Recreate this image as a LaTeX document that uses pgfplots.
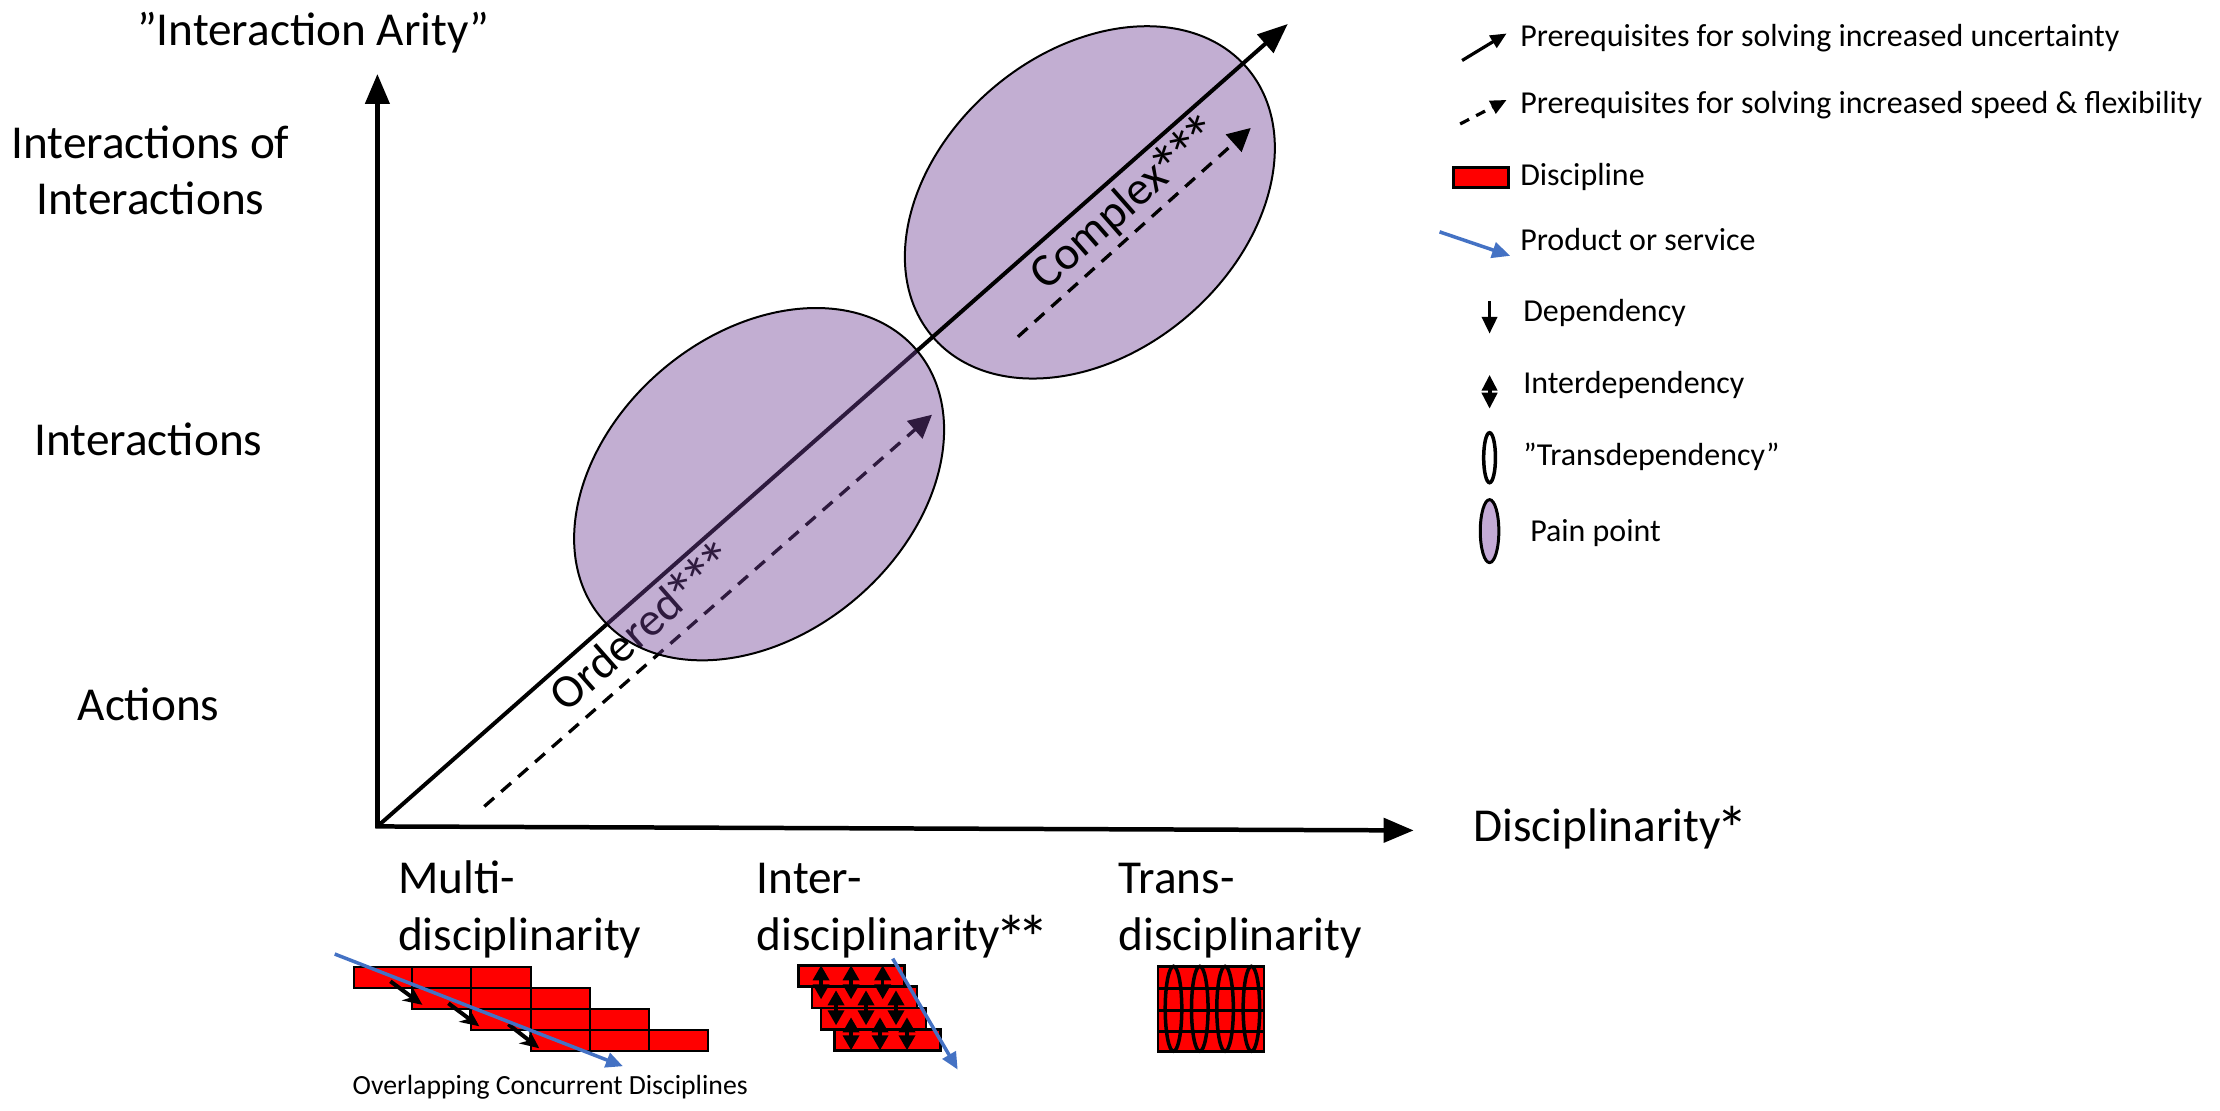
\documentclass[border=0pt]{standalone}
\usepackage{fontspec}
\setmainfont{Carlito}
\usepackage{graphicx}
\usepackage{pgfplots}
\pgfplotsset{compat=1.18}
\usetikzlibrary{arrows.meta}
\definecolor{ppl}{HTML}{6E3E94}
\definecolor{ppllight}{HTML}{C4AAD6}
\definecolor{blu}{HTML}{4472C4}
\newcommand\mainf{\fontsize{13.45}{16}\selectfont}
\newcommand\legf{\fontsize{9.1}{11}\selectfont}
\newcommand\smallf{\fontsize{7.9}{9.5}\selectfont}
\newcommand\st{\makebox[0.47em][c]{\raisebox{-0.22em}{\scalebox{1.35}{*}}}}
\tikzset{rb/.style={fill=red, draw=black, line width=0.2mm},
  da/.style={{Triangle[length=1.5mm,width=1.6mm]}-{Triangle[length=1.5mm,width=1.6mm]}, line width=0.35mm}}
\begin{document}
\begin{tikzpicture}
\begin{axis}[x=0.1mm, y=0.1mm, y dir=reverse,
  xmin=0, xmax=2220, ymin=0, ymax=1101,
  axis lines=none, clip=false, ticks=none]
\path (0,0) rectangle (2220,1101);
% pain point 2 (under the line)
\draw[fill=ppl, fill opacity=0.42, draw=black, line width=0.2mm,
  rotate around={40.5:(axis cs:1089,200.5)}] (axis cs:1089,200.5) ellipse [x radius=20.7mm, y radius=15.0mm];
% axes
\addplot[-{Triangle[length=3mm,width=2.4mm]}, line width=0.45mm] coordinates {(376,827) (376,72)};
\addplot[-{Triangle[length=3mm,width=2.4mm]}, line width=0.45mm] coordinates {(374,825) (1413,829)};
% diagonal
\addplot[-{Triangle[length=3mm,width=2.4mm]}, line width=0.4mm] coordinates {(376,825) (1287,22)};
% dashed
\addplot[-{Triangle[length=2.3mm,width=2.3mm]}, line width=0.33mm, dash pattern=on 1.3mm off 0.95mm] coordinates {(483,805) (931,413)};
\addplot[-{Triangle[length=2.3mm,width=2.3mm]}, line width=0.33mm, dash pattern=on 1.3mm off 0.95mm] coordinates {(1017,335) (1250,126)};
% rotated labels
\node[rotate=41.4, anchor=north, inner sep=0.5mm] at (623.5,607) {\mainf Ordered\st\st\st};
\node[rotate=41.4, anchor=north, inner sep=0.5mm] at (1106,182) {\mainf Complex\st\st\st};
% pain point 1 (over the line)
\draw[fill=ppl, fill opacity=0.42, draw=black, line width=0.2mm,
  rotate around={40.5:(axis cs:758,482.5)}] (axis cs:758,482.5) ellipse [x radius=20.7mm, y radius=15.0mm];
% axis texts
\node[anchor=base] at (312,43) {\mainf ”Interaction Arity”};
\node[anchor=base] at (149,157) {\mainf Interactions of};
\node[anchor=base] at (149,213) {\mainf Interactions};
\node[anchor=base] at (147,454) {\mainf Interactions};
\node[anchor=base] at (147,719) {\mainf Actions};
\node[anchor=base west, inner sep=0pt] at (1472,840) {\mainf Disciplinarity\st};
\node[anchor=base west, inner sep=0pt] at (396,892) {\mainf Multi-};
\node[anchor=base west, inner sep=0pt] at (396,949) {\mainf disciplinarity};
\node[anchor=base west, inner sep=0pt] at (755,892) {\mainf Inter-};
\node[anchor=base west, inner sep=0pt] at (755,949) {\mainf disciplinarity\st\st};
\node[anchor=base west, inner sep=0pt] at (1117,892) {\mainf Trans-};
\node[anchor=base west, inner sep=0pt] at (1117,949) {\mainf disciplinarity};
\node[anchor=base] at (549,1093) {\smallf Overlapping Concurrent Disciplines};
% multi icon
\draw[rb] (352.7,966) rectangle (411,987);
\draw[rb] (411,966) rectangle (470,987);
\draw[rb] (470,966) rectangle (529.3,987);
\draw[rb] (411,987) rectangle (470,1008);
\draw[rb] (470,987) rectangle (529.3,1008);
\draw[rb] (529.3,987) rectangle (588.7,1008);
\draw[rb] (470,1008) rectangle (529.3,1029);
\draw[rb] (529.3,1008) rectangle (588.7,1029);
\draw[rb] (588.7,1008) rectangle (648.3,1029);
\draw[rb] (529.3,1029) rectangle (588.7,1050);
\draw[rb] (588.7,1029) rectangle (648.3,1050);
\draw[rb] (648.3,1029) rectangle (707.3,1050);
\addplot[-{Stealth[length=1.9mm,width=1.7mm]}, line width=0.4mm] coordinates {(389,980) (421,1003.5)};
\addplot[-{Stealth[length=1.9mm,width=1.7mm]}, line width=0.4mm] coordinates {(447,1002) (478,1025)};
\addplot[-{Stealth[length=1.9mm,width=1.7mm]}, line width=0.4mm] coordinates {(507,1023) (538,1047)};
\addplot[blu, -{Triangle[length=1.7mm,width=1.5mm]}, line width=0.35mm] coordinates {(333.3,952.7) (621.7,1065)};
% inter icon
\draw[rb, line width=0.25mm] (797.3,964) rectangle (903.3,985);
\draw[rb, line width=0.25mm] (810.7,985) rectangle (916,1006.7);
\draw[rb, line width=0.25mm] (820,1006.7) rectangle (925,1028.3);
\draw[rb, line width=0.25mm] (833.3,1028.3) rectangle (939.3,1049.3);
\draw[da] (820,964) -- (820,998);
\draw[da] (850,964) -- (850,998);
\draw[da] (881.7,964) -- (881.7,998);
\draw[da] (835,989) -- (835,1024);
\draw[da] (865,989) -- (865,1024);
\draw[da] (895,989) -- (895,1024);
\draw[da] (850,1016) -- (850,1049);
\draw[da] (879,1016) -- (879,1049);
\draw[da] (906,1016) -- (906,1049);
\addplot[blu, -{Triangle[length=1.7mm,width=1.5mm]}, line width=0.35mm] coordinates {(891.7,957.3) (956.7,1068.3)};
% trans icon
\draw[rb, line width=0.25mm] (1157.3,965) rectangle (1263.3,1050);
\draw[line width=0.3mm] (1157.3,987.3) -- (1263.3,987.3);
\draw[line width=0.3mm] (1157.3,1009.3) -- (1263.3,1009.3);
\draw[line width=0.3mm] (1157.3,1030) -- (1263.3,1030);
\draw[line width=0.35mm] (axis cs:1172.7,1007.5) ellipse [x radius=0.83mm, y radius=4.25mm];
\draw[line width=0.35mm] (axis cs:1199,1007.5) ellipse [x radius=0.83mm, y radius=4.25mm];
\draw[line width=0.35mm] (axis cs:1224.3,1007.5) ellipse [x radius=0.83mm, y radius=4.25mm];
\draw[line width=0.35mm] (axis cs:1250.7,1007.5) ellipse [x radius=0.83mm, y radius=4.25mm];
% legend
\addplot[-{Triangle[length=1.6mm,width=1.4mm]}, line width=0.32mm] coordinates {(1461.5,58.5) (1506,31.5)};
\addplot[-{Triangle[length=1.6mm,width=1.4mm]}, line width=0.32mm, dash pattern=on 1mm off 0.8mm] coordinates {(1459.6,122) (1506,98)};
\draw[fill=red, draw=black, line width=0.3mm] (1453,166) rectangle (1508,186);
\addplot[blu, -{Triangle[length=1.8mm,width=1.6mm]}, line width=0.35mm] coordinates {(1439,230) (1509.6,254)};
\addplot[-{Triangle[length=1.7mm,width=1.5mm]}, line width=0.38mm] coordinates {(1489,299) (1489,332)};
\draw[{Triangle[length=1.6mm,width=1.5mm]}-{Triangle[length=1.6mm,width=1.5mm]}, line width=0.4mm] (1489,373) -- (1489,407);
\draw[fill=white, draw=black, line width=0.35mm] (axis cs:1489,456) ellipse [x radius=0.59mm, y radius=2.5mm];
\draw[fill=ppllight, draw=black, line width=0.3mm] (axis cs:1489,529.5) ellipse [x radius=0.93mm, y radius=3.15mm];
\node[anchor=base west, inner sep=0pt] at (1519,44) {\legf Prerequisites for solving increased uncertainty};
\node[anchor=base west, inner sep=0pt] at (1519,112) {\legf Prerequisites for solving increased speed \& flexibility};
\node[anchor=base west, inner sep=0pt] at (1519,184) {\legf Discipline};
\node[anchor=base west, inner sep=0pt] at (1519,249) {\legf Product or service};
\node[anchor=base west, inner sep=0pt] at (1522,320) {\legf Dependency};
\node[anchor=base west, inner sep=0pt] at (1522,392) {\legf Interdependency};
\node[anchor=base west, inner sep=0pt] at (1522,464) {\legf ”Transdependency”};
\node[anchor=base west, inner sep=0pt] at (1529,540) {\legf Pain point};
\end{axis}
\end{tikzpicture}
\end{document}
